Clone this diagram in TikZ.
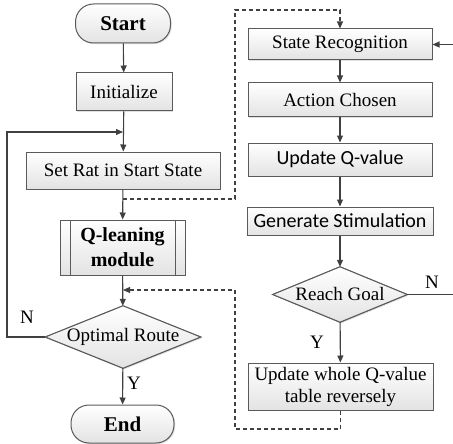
\documentclass[tikz,border=0pt]{standalone}
\usepackage{fontspec}
\setmainfont{Liberation Serif}
\newfontfamily\calfont{Carlito}
\usetikzlibrary{arrows.meta,shadows,backgrounds,calc}
\definecolor{lc}{HTML}{404040}
\definecolor{bc}{HTML}{5A5A5A}
\begin{document}
\begin{tikzpicture}[x=1pt,y=-1pt,
  line/.style={draw=lc, line width=1.1pt},
  arr/.style={line, -{Triangle[length=7pt,width=6pt]}},
  darr/.style={arr, dash pattern=on 4pt off 3pt},
  txt/.style={font=\fontsize{19}{22}\selectfont},
  box/.style 2 args={draw=bc, line width=1pt, top color=white, bottom color=gray!22,
    minimum width=#1, minimum height=#2, inner sep=0pt, align=center,
    font=\fontsize{19}{22}\selectfont,
    drop shadow={shadow xshift=1.2pt, shadow yshift=-1.2pt, opacity=0.25}},
  term/.style 2 args={box={#1}{#2}, rounded corners=18pt, font=\bfseries\fontsize{21}{24}\selectfont},
  dia/.style 2 args={minimum width=#1, minimum height=#2, inner sep=0pt, align=center,
    font=\fontsize{19}{22}\selectfont},
  diashape/.style={draw=bc, line width=1pt, top color=white, bottom color=gray!22}
]
\useasboundingbox (0,0) rectangle (453,444);

% left column
\node[term={95pt}{39pt}] (start) at (123,23.5) {Start};
\node[box={96pt}{38pt}] (init) at (124,92) {Initialize};
\node[box={194pt}{37pt}] (setrat) at (123,170.5) {Set Rat in Start State};
\node[box={125pt}{55pt}, font=\bfseries\fontsize{20}{25}\selectfont] (qmod) at (122.5,247.5) {Q-leaning\\module};
\draw[draw=bc, line width=1pt] ($(qmod.north west)+(11,0)$) -- ($(qmod.south west)+(11,0)$);
\draw[draw=bc, line width=1pt] ($(qmod.north east)+(-10,0)$) -- ($(qmod.south east)+(-10,0)$);
\node[dia={155pt}{62pt}] (opt) at (123,337) {Optimal Route};
\node[term={103pt}{38pt}] (end) at (122.5,424) {End};

% right column
\node[box={184pt}{31pt}] (sr) at (340,44.5) {State Recognition};
\node[box={184pt}{34pt}] (ac) at (340,100) {Action Chosen};
\node[box={184pt}{33pt}, font=\calfont\fontsize{20}{24}\selectfont] (uq) at (340,159.5) {Update Q-value};
\node[box={186pt}{28pt}, font=\calfont\fontsize{20}{24}\selectfont] (gs) at (340,221) {Generate Stimulation};
\node[dia={134pt}{55pt}] (rg) at (340,294.5) {Reach Goal};
\node[box={185pt}{47pt}, font=\fontsize{19}{22}\selectfont] (uw) at (340.5,386.5) {Update whole Q-value\\table reversely};

\begin{scope}[on background layer]
  \shade[diashape, drop shadow={shadow xshift=1.2pt, shadow yshift=-1.2pt, opacity=0.25}] (opt.west) -- (opt.north) -- (opt.east) -- (opt.south) -- cycle;
  \draw[diashape, fill=none] (opt.west) -- (opt.north) -- (opt.east) -- (opt.south) -- cycle;
  \shade[diashape, drop shadow={shadow xshift=1.2pt, shadow yshift=-1.2pt, opacity=0.25}] (rg.west) -- (rg.north) -- (rg.east) -- (rg.south) -- cycle;
  \draw[diashape, fill=none] (rg.west) -- (rg.north) -- (rg.east) -- (rg.south) -- cycle;
\end{scope}

\coordinate (j1) at (123,132);
\coordinate (d1) at (123,199);
\coordinate (d2) at (123,290);

% connectors left
\draw[arr] (start) -- (init);
\draw[arr] (init) -- (setrat);
\draw[arr] (opt.west) -- (7,337) |- (j1);
\draw[arr] (setrat) -- (qmod);
\draw[arr] (qmod) -- (opt);
\draw[arr] (opt) -- (end);
\node[txt] at (27,317) {N};
\node[txt] at (134,383) {Y};

% connectors right
\draw[arr] (sr) -- (ac);
\draw[arr] (ac) -- (uq);
\draw[arr] (uq) -- (gs);
\draw[arr] (gs) -- (rg);
\draw[arr] (rg) -- (uw);
\draw[arr] (rg.east) -- (456,294.5) |- (sr.east);
\node[txt] at (432,282) {N};
\node[txt] at (317,342) {Y};

% dashed links
\draw[darr] (d1) -| (235,10) -| (sr.north);
\draw[darr] (uw.south) -- (340.5,429) -| (235,290) -- (d2);
\end{tikzpicture}
\end{document}
